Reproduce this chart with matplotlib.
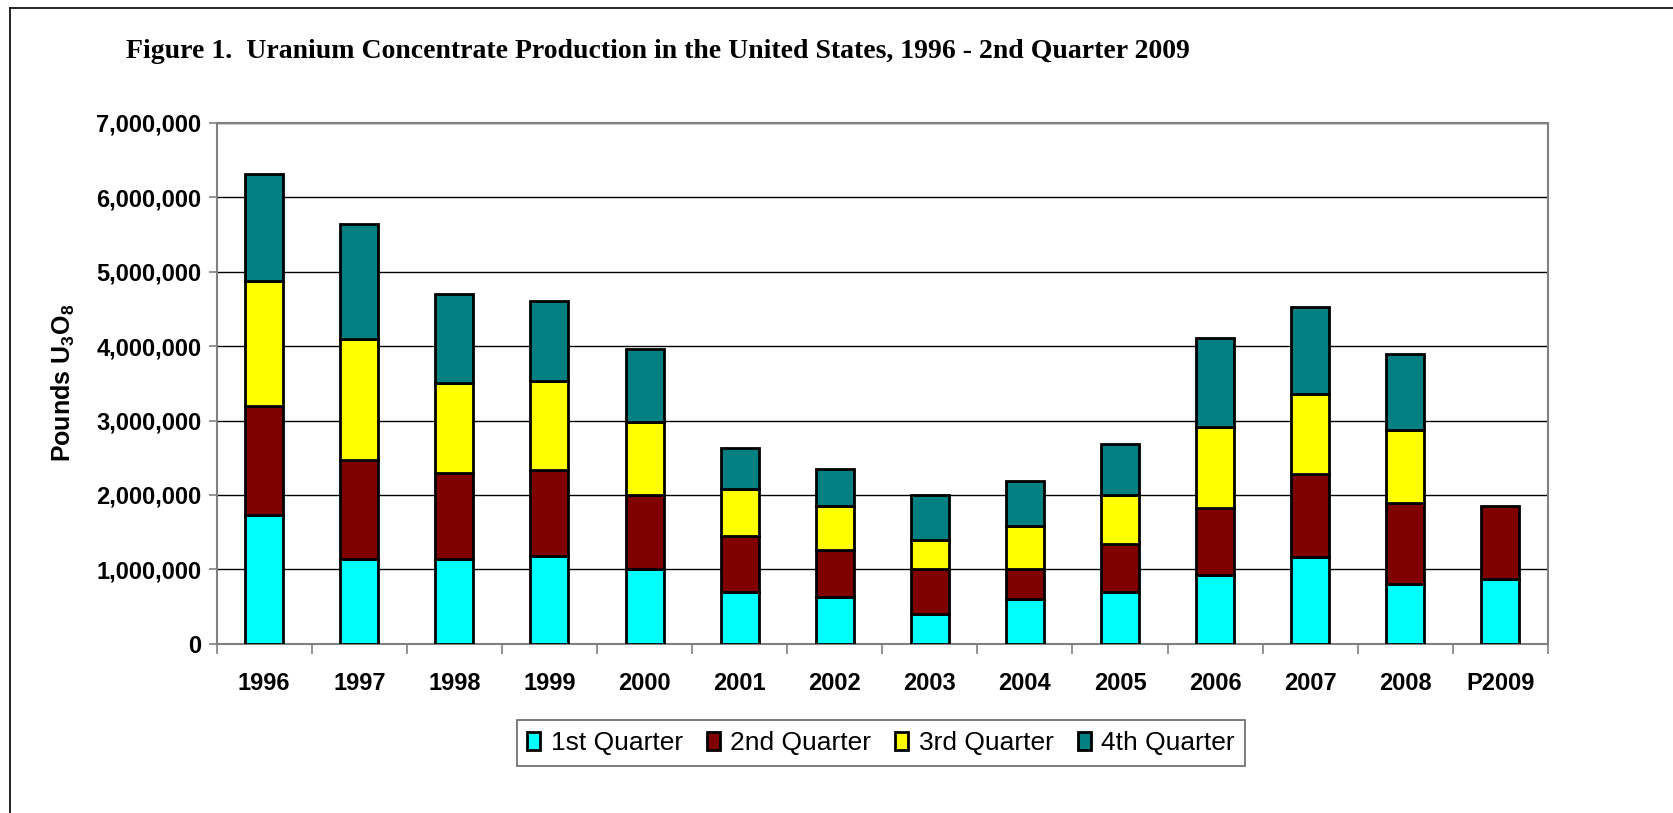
import matplotlib
matplotlib.use("Agg")
import matplotlib.pyplot as plt
import numpy as np
from matplotlib.ticker import FuncFormatter, FixedLocator

years = ["1996", "1997", "1998", "1999", "2000", "2001", "2002", "2003",
         "2004", "2005", "2006", "2007", "2008", "P2009"]
q1 = [1731000, 1141000, 1141000, 1184000, 1011000, 700000, 623000, 398000,
      599000, 700000, 930000, 1160000, 805000, 877000]
q2 = [1462000, 1328000, 1150000, 1146000, 988000, 753000, 638000, 604000,
      403000, 642000, 901000, 1122000, 1084000, 978000]
q3 = [1687000, 1620000, 1209000, 1198000, 978000, 623000, 585000, 398000,
      585000, 657000, 1079000, 1069000, 978000, 0]
q4 = [1438000, 1549000, 1198000, 1074000, 978000, 561000, 498000, 594000,
      594000, 686000, 1194000, 1174000, 1030000, 0]
series_names = ["1st Quarter", "2nd Quarter", "3rd Quarter", "4th Quarter"]
colors = ["#00FFFF", "#800000", "#FFFF00", "#008080"]

plt.rcParams['font.family'] = ['Liberation Sans', 'DejaVu Sans']
plt.rcParams['mathtext.fontset'] = 'custom'
plt.rcParams['mathtext.rm'] = 'Liberation Sans:bold'
plt.rcParams['mathtext.it'] = 'Liberation Sans:bold'
plt.rcParams['mathtext.bf'] = 'Liberation Sans:bold'

fig = plt.figure(figsize=(16.74, 8.13), dpi=100)
ax = fig.add_axes([0.1294, 0.2081, 0.9247 - 0.1294, 0.849 - 0.2081])

x = np.arange(len(years))
bottom = np.zeros(len(years))
handles = []
for name, vals, col in zip(series_names, [q1, q2, q3, q4], colors):
    vals = np.array(vals, dtype=float)
    mask = vals > 0
    b = ax.bar(x[mask], vals[mask], width=0.4, bottom=bottom[mask], color=col,
               edgecolor='black', linewidth=2.0, label=name, zorder=3)
    handles.append(b)
    bottom = bottom + vals

ax.set_xlim(-0.5, len(years) - 0.5)
ax.set_ylim(0, 7000000)
ax.yaxis.set_major_locator(FixedLocator(np.arange(0, 7000001, 1000000)))
ax.yaxis.set_major_formatter(FuncFormatter(lambda v, p: f"{int(v):,}"))
ax.grid(axis='y', color='black', linewidth=1.0, zorder=0)
ax.set_axisbelow(True)

ax.set_xticks(x)
ax.set_xticklabels(years, fontsize=17, fontweight='bold')
ax.tick_params(axis='x', which='major', length=0, pad=20)
ax.set_xticks(np.arange(-0.5, len(years), 1.0), minor=True)
ax.tick_params(axis='x', which='minor', length=7, width=1.2, color='#808080', direction='out')
ax.tick_params(axis='y', length=6, width=1.2, color='#808080', labelsize=17, pad=5)
for lab in ax.get_yticklabels():
    lab.set_fontweight('bold')

for s in ['top', 'right', 'left', 'bottom']:
    ax.spines[s].set_color('#808080')
    ax.spines[s].set_linewidth(1.5)

ax.set_ylabel(r'Pounds U$_3$O$_8$', fontsize=18, fontweight='bold')
ax.yaxis.set_label_coords(-0.105, 0.5)

fig.text(126 / 1674, 1 - 51 / 813,
         "Figure 1.  Uranium Concentrate Production in the United States, 1996 - 2nd Quarter 2009",
         family=['Liberation Serif', 'DejaVu Serif'], fontsize=20, fontweight='bold',
         ha='left', va='center')

leg = fig.legend(handles=handles, labels=series_names, loc='center',
                 bbox_to_anchor=(881 / 1674, 1 - 743 / 813), ncol=4, fontsize=19,
                 frameon=True, fancybox=False, edgecolor='#404040',
                 handlelength=0.5, handleheight=0.67, handletextpad=0.4,
                 columnspacing=0.9, borderpad=0.4, borderaxespad=0)
leg.get_frame().set_linewidth(1.2)

# outer frame lines (left and top)
fig.add_artist(plt.Line2D([10 / 1674, 10 / 1674], [0, 1 - 8 / 813], transform=fig.transFigure,
                          color='black', linewidth=1.2))
fig.add_artist(plt.Line2D([10 / 1674, 1], [1 - 8 / 813, 1 - 8 / 813], transform=fig.transFigure,
                          color='black', linewidth=1.2))

fig.savefig("out.png", dpi=100)
